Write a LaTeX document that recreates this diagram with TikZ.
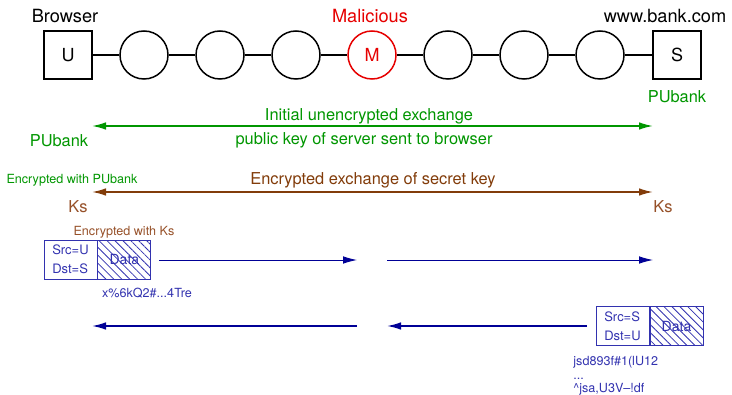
\documentclass[tikz,border=0pt]{standalone}
\usepackage{fontspec}
\setmainfont{TeX Gyre Heros}
\usetikzlibrary{arrows.meta,patterns.meta}

\definecolor{keygreen}{RGB}{0,150,0}
\definecolor{keybrown}{RGB}{130,60,10}
\definecolor{ksbrown}{RGB}{150,80,40}
\definecolor{evilred}{RGB}{230,0,0}
\definecolor{pktblue}{RGB}{50,50,175}
\definecolor{navy}{RGB}{0,0,150}

\begin{document}
\begin{tikzpicture}[x=0.5pt, y=-0.5pt, >={Latex[length=7pt 0 0, width=3.8pt 0 0]}]
			\tikzstyle{every node}=[align=center, inner sep=1pt]
			\tikzstyle{host}=[draw, line width=0.75pt, minimum size=24pt, inner sep=0pt, font=\fontsize{9}{11}\selectfont]
			\tikzstyle{hop}=[draw, circle, line width=0.75pt, minimum size=24pt, inner sep=0pt, font=\fontsize{9}{11}\selectfont]
			\tikzstyle{big}=[font=\fontsize{9.1}{11}\selectfont]
			\tikzstyle{mid}=[font=\fontsize{8.2}{10}\selectfont]
			\tikzstyle{small}=[font=\fontsize{6.3}{7.5}\selectfont]
			\tikzstyle{hdr}=[draw=pktblue, text=pktblue, line width=0.5pt, minimum width=26.5pt, minimum height=19.5pt, align=left, font=\fontsize{6.5}{9.5}\selectfont]
			\tikzstyle{data}=[draw=pktblue, text=pktblue, line width=0.5pt, minimum width=26.5pt, minimum height=19.5pt, font=\fontsize{7}{8}\selectfont, pattern={Lines[angle=-45, distance=2.8pt, line width=0.4pt]}, pattern color=pktblue]
			\tikzstyle{msg}=[line width=0.8pt]
			\useasboundingbox (0,0) rectangle (732,395);

				% the route from browser to bank
				\node[host] (U) at (68,55) {U};
				\node[hop] (h1) at (144,55) {};
				\node[hop] (h2) at (220,55) {};
				\node[hop] (h3) at (296,55) {};
				\node[hop, draw=evilred, text=evilred] (M) at (372,55) {M};
				\node[hop] (h5) at (448,55) {};
				\node[hop] (h6) at (524,55) {};
				\node[hop] (h7) at (600,55) {};
				\node[host] (S) at (677,55) {S};

				\draw[line width=0.75pt] (U) -- (h1) -- (h2) -- (h3) -- (M) -- (h5) -- (h6) -- (h7) -- (S);

				\node[big] (browser) at (65,16) {Browser};
				\node[big, text=evilred] (malicious) at (370,16) {Malicious};
				\node[big] (bank) at (665,16) {www.bank.com};
				\node[mid, text=keygreen] (pubS) at (677,97) {PUbank};

				% public key handed out in the clear
				\coordinate (gl) at (92,126);
				\coordinate (gr) at (653,126);
				\draw[msg, <->, keygreen] (gl) -- (gr);
				\node[mid, text=keygreen] (initial) at (369,116) {Initial unencrypted exchange};
				\node[mid, text=keygreen] (pubkey) at (364,140) {public key of server sent to browser};
				\node[mid, text=keygreen] (pubU) at (59,141) {PUbank};

				% secret key exchange
				\coordinate (bl) at (92,192);
				\coordinate (br) at (653,192);
				\draw[msg, <->, keybrown] (bl) -- (br);
				\node[small, text=keygreen] (encpu) at (72,180) {Encrypted with PUbank};
				\node[mid, text=keybrown] (secret) at (373,180) {Encrypted exchange of secret key};
				\node[mid, text=ksbrown] (ksU) at (78,207) {Ks};
				\node[mid, text=ksbrown] (ksS) at (663,207) {Ks};
				\node[small, text=ksbrown] (encks) at (124,232) {Encrypted with Ks};

				% packet from browser to bank
				\node[hdr] (hdrU) at (70.5,259.5) {Src=U\\Dst=S};
				\node[data, anchor=west] (dataU) at (hdrU.east) {Data};
				\node[small, text=pktblue] (cipherU) at (147,293) {x\%6kQ2\#...4Tre};
				\coordinate (r0) at (159,260);
				\coordinate (r1) at (357,260);
				\coordinate (r2) at (387,260);
				\coordinate (r3) at (653,260);
				\draw[->, navy, line width=0.45pt] (r0) -- (r1);
				\draw[->, navy, line width=0.45pt] (r2) -- (r3);

				% packet from bank to browser
				\node[hdr] (hdrS) at (622.5,326) {Src=S\\Dst=U};
				\node[data, anchor=west] (dataS) at (hdrS.east) {Data};
				\node[small, text=pktblue, align=left, anchor=north west, font=\fontsize{6.3}{6.8}\selectfont] (cipherS) at (571,354) {jsd893f\#1(lU12\\...\\\textasciicircum jsa,U3V--!df};
				\coordinate (l0) at (587,326);
				\coordinate (l1) at (387,326);
				\coordinate (l2) at (357,326);
				\coordinate (l3) at (92,326);
				\draw[msg, ->, navy] (l0) -- (l1);
				\draw[msg, ->, navy] (l2) -- (l3);
			\end{tikzpicture}
\end{document}
